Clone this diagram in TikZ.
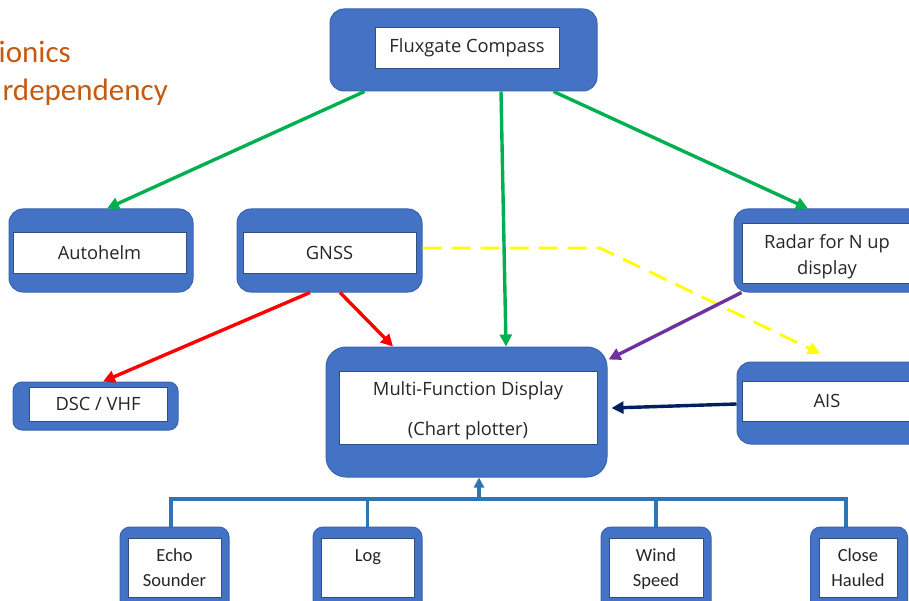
\documentclass[tikz,border=0pt]{standalone}
\usepackage{fontspec}
\setmainfont{Open Sans}
\newfontfamily\calfont{Carlito}
\usetikzlibrary{arrows.meta}
\definecolor{boxblue}{HTML}{4472C4}
\definecolor{bordblue}{HTML}{3A64AE}
\definecolor{ingray}{HTML}{2F4F7F}
\definecolor{gline}{HTML}{00B050}
\definecolor{rline}{HTML}{FF0000}
\definecolor{yline}{HTML}{FFFF00}
\definecolor{pline}{HTML}{7030A0}
\definecolor{nline}{HTML}{002060}
\definecolor{bline}{HTML}{2E75B6}
\definecolor{titleor}{HTML}{C55A11}
\begin{document}
\begin{tikzpicture}[x=1pt,y=-1pt,
  outer/.style={draw=bordblue, fill=boxblue, line width=1pt, rounded corners=14pt, inner sep=0pt},
  inner/.style={draw=ingray, fill=white, line width=0.7pt, align=center, inner sep=0pt,
    font=\fontsize{18.3}{26}\selectfont, text=black!85},
  small/.style={inner, font=\calfont\fontsize{18.5}{25}\selectfont, anchor=north, text depth=0pt},
  conn/.style={line width=3.4pt, -{Triangle[length=12pt,width=12pt]}},
  titletext/.style={text=titleor, font=\calfont\fontsize{31}{37}\selectfont, inner sep=0pt, anchor=base east}
]
\useasboundingbox (0,0) rectangle (909,601);
\clip (0,0) rectangle (909,601);

% title
\node[titletext] (t1) at (71,63) {ionics};
\node[titletext] (t2) at (168,101) {rdependency};

% Fluxgate
\node[outer, minimum width=267pt, minimum height=82pt] (flux) at (463.5,50) {};
\node[inner, minimum width=184pt, minimum height=41pt] (fluxin) at (467,47.5) {Fluxgate Compass};

% Autohelm
\node[outer, minimum width=184pt, minimum height=83pt] (auto) at (101,250.5) {};
\node[inner, minimum width=173pt, minimum height=41pt] (autoin) at (99.5,252.5) {Autohelm};

% GNSS
\node[outer, minimum width=185pt, minimum height=83pt] (gnss) at (329.5,250.5) {};
\node[inner, minimum width=173pt, minimum height=41pt] (gnssin) at (329.5,252.5) {GNSS};

% DSC/VHF
\node[outer, rounded corners=9pt, minimum width=165pt, minimum height=48pt] (dsc) at (95.5,406) {};
\node[inner, minimum width=138pt, minimum height=34pt] (dscin) at (98,404) {DSC / VHF};

% MFD
\node[outer, rounded corners=20pt, minimum width=281pt, minimum height=130pt] (mfd) at (466.5,412) {};
\node[inner, minimum width=258pt, minimum height=73pt,
  font=\fontsize{18.3}{40}\selectfont] (mfdin) at (468,407.5) {\rule{0pt}{19.5pt}Multi-Function Display\\(Chart plotter)};

% Radar
\node[outer, minimum width=196pt, minimum height=83pt] (radar) at (832,250.5) {};
\node[inner, minimum width=170pt, minimum height=60pt] (radarin) at (827,253) {\rule{0pt}{21.5pt}Radar for N up\\display};

% AIS
\node[outer, minimum width=193pt, minimum height=82pt] (ais) at (833.5,403) {};
\node[inner, minimum width=170pt, minimum height=40pt] (aisin) at (827,401) {AIS};

% bottom row
\node[outer, rounded corners=10pt, minimum width=109pt, minimum height=85pt] (echo) at (174.5,569.5) {};
\node[small, minimum width=93pt, minimum height=59pt] (echoin) at (174.5,538) {\rule{0pt}{13pt}Echo\\Sounder};
\node[outer, rounded corners=10pt, minimum width=109pt, minimum height=85pt] (log) at (367.5,569.5) {};
\node[small, minimum width=93pt, minimum height=59pt] (login) at (368,538) {\rule{0pt}{13pt}Log\\\strut};
\node[outer, rounded corners=10pt, minimum width=110pt, minimum height=85pt] (wind) at (656,569.5) {};
\node[small, minimum width=94pt, minimum height=59pt] (windin) at (656,538) {\rule{0pt}{13pt}Wind\\Speed};
\node[outer, rounded corners=10pt, minimum width=97pt, minimum height=85pt] (close) at (859,569.5) {};
\node[small, minimum width=78pt, minimum height=59pt] (closein) at (858,538) {\rule{0pt}{13pt}Close\\Hauled};

% green connectors
\draw[conn, gline] ([xshift=35pt]flux.south west) -- ([xshift=6pt]auto.north);
\draw[conn, gline] ([xshift=37.5pt]flux.south) -- ([xshift=39.5pt]mfd.north);
\draw[conn, gline] ([xshift=-44pt]flux.south east) -- ([xshift=-24pt]radar.north);

% yellow dashed
\coordinate (ybend) at (600,248);
\draw[conn, yline, line width=2.8pt, dash pattern=on 19pt off 10pt]
  ([yshift=2.5pt]gnss.east) -- (ybend) -- ([xshift=-13.5pt,yshift=8pt]ais.north);

% red
\draw[conn, rline] ([xshift=-19.5pt]gnss.south) -- ([xshift=7.5pt]dsc.north);
\draw[conn, rline] ([xshift=10.5pt]gnss.south) -- ([xshift=-73.5pt]mfd.north);

% purple
\draw[conn, pline] ([xshift=8pt]radar.south west) -- ([xshift=1pt,yshift=-13pt]mfd.north east);

% navy
\draw[conn, nline] ([yshift=-1pt]ais.west) -- ([xshift=4pt,yshift=4pt]mfd.east);

% bottom bus
\coordinate (junc) at (479,499);
\draw[bline, line width=3.2pt] ([xshift=-3.5pt]echo.north) |- (junc) -| ([xshift=-13pt]close.north);
\draw[bline, line width=3.2pt] (log.north) -- (log.north |- junc);
\draw[bline, line width=3.2pt] (wind.north) -- (wind.north |- junc);
\draw[bline, line width=3.2pt, -{Triangle[length=10pt,width=10pt]}] (junc) -- (mfd.south -| junc);
\end{tikzpicture}
\end{document}
